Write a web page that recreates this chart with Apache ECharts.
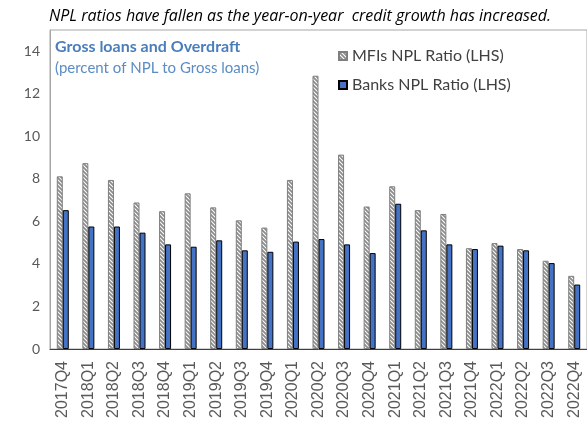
<!DOCTYPE html>
<html>
<head>
<meta charset="utf-8">
<script src="https://cdn.jsdelivr.net/npm/echarts@6/dist/echarts.min.js"></script>
<style>
  html, body { margin: 0; padding: 0; background: #fff; }
  #chart { width: 587px; height: 422px; }
</style>
</head>
<body>
<div id="chart"></div>
<script>
const quarters = ['2017Q4', '2018Q1', '2018Q2', '2018Q3', '2018Q4', '2019Q1', '2019Q2',
    '2019Q3', '2019Q4', '2020Q1', '2020Q2', '2020Q3', '2020Q4', '2021Q1', '2021Q2',
    '2021Q3', '2021Q4', '2022Q1', '2022Q2', '2022Q3', '2022Q4'];
const mfiNpl = [8.12, 8.74, 7.95, 6.89, 6.48, 7.32, 6.66, 6.05, 5.71, 7.95, 12.85,
    9.14, 6.70, 7.65, 6.53, 6.35, 4.74, 4.98, 4.70, 4.15, 3.44];
const bankNpl = [6.53, 5.76, 5.76, 5.47, 4.92, 4.81, 5.11, 4.64, 4.57, 5.05, 5.17,
    4.92, 4.51, 6.83, 5.58, 4.92, 4.70, 4.86, 4.64, 4.04, 3.03];
const yTicks = [0, 2, 4, 6, 8, 10, 12, 14];

// hatch fill for the MFI bars
function makeHatch() {
    const c = document.createElement('canvas');
    c.width = 4;
    c.height = 4;
    const ctx = c.getContext('2d');
    ctx.fillStyle = '#ffffff';
    ctx.fillRect(0, 0, 4, 4);
    ctx.strokeStyle = '#8c8c8c';
    ctx.lineWidth = 1.8;
    ctx.beginPath();
    ctx.moveTo(-1, -1); ctx.lineTo(5, 5);
    ctx.moveTo(-3, 1); ctx.lineTo(1, 5);
    ctx.moveTo(1, -3); ctx.lineTo(5, 1);
    ctx.stroke();
    return c;
}

const chart = echarts.init(document.getElementById('chart'));

chart.setOption({
    animation: false,
    title: [
        {
            text: 'NPL ratios have fallen as the year-on-year  credit growth has increased.',
            left: 44,
            top: 3,
            textStyle: { fontFamily: 'Open Sans', fontStyle: 'italic', fontWeight: 'normal', fontSize: 16, color: '#000' }
        },
        {
            text: 'Gross loans and Overdraft',
            subtext: '(percent of NPL to Gross loans)',
            left: 50,
            top: 34,
            itemGap: 6,
            textStyle: { fontFamily: 'Lato', fontWeight: 'bold', fontSize: 16, color: '#4a7ebb' },
            subtextStyle: { fontFamily: 'Lato', fontSize: 15, color: '#5b8cc4' }
        }
    ],
    legend: {
        orient: 'vertical',
        left: 333,
        top: 43,
        icon: 'rect',
        itemWidth: 8,
        itemHeight: 8,
        itemGap: 13,
        textStyle: { fontFamily: 'Lato', fontSize: 16, color: '#404040' },
        data: ['MFIs NPL Ratio (LHS)', 'Banks NPL Ratio (LHS)']
    },
    grid: {
        left: 50,
        right: -4,
        top: 30,
        bottom: 73,
        show: true,
        borderColor: '#a6a6a6',
        borderWidth: 1
    },
    xAxis: {
        type: 'category',
        data: quarters,
        axisLine: { lineStyle: { color: '#404040', width: 1 } },
        axisTick: { show: false },
        axisLabel: {
            rotate: 90,
            interval: 0,
            margin: 12,
            fontFamily: 'Liberation Sans',
            fontSize: 16,
            color: '#595959'
        }
    },
    yAxis: {
        type: 'value',
        min: yTicks[0],
        max: 15,
        interval: 2,
        splitLine: { show: false },
        axisLine: { show: true, lineStyle: { color: '#a6a6a6' } },
        axisTick: { show: false },
        axisLabel: {
            margin: 10,
            showMaxLabel: false,
            fontFamily: 'Lato',
            fontSize: 14,
            color: '#595959'
        }
    },
    series: [
        {
            name: 'MFIs NPL Ratio (LHS)',
            type: 'bar',
            data: mfiNpl,
            barWidth: 6,
            barGap: '0%',
            itemStyle: {
                color: { image: makeHatch(), repeat: 'repeat' },
                borderColor: '#7f7f7f',
                borderWidth: 1
            }
        },
        {
            name: 'Banks NPL Ratio (LHS)',
            type: 'bar',
            data: bankNpl,
            barWidth: 6,
            barGap: '0%',
            itemStyle: {
                color: '#4472c4',
                borderColor: '#000000',
                borderWidth: 1
            }
        }
    ]
});
</script>
</body>
</html>
